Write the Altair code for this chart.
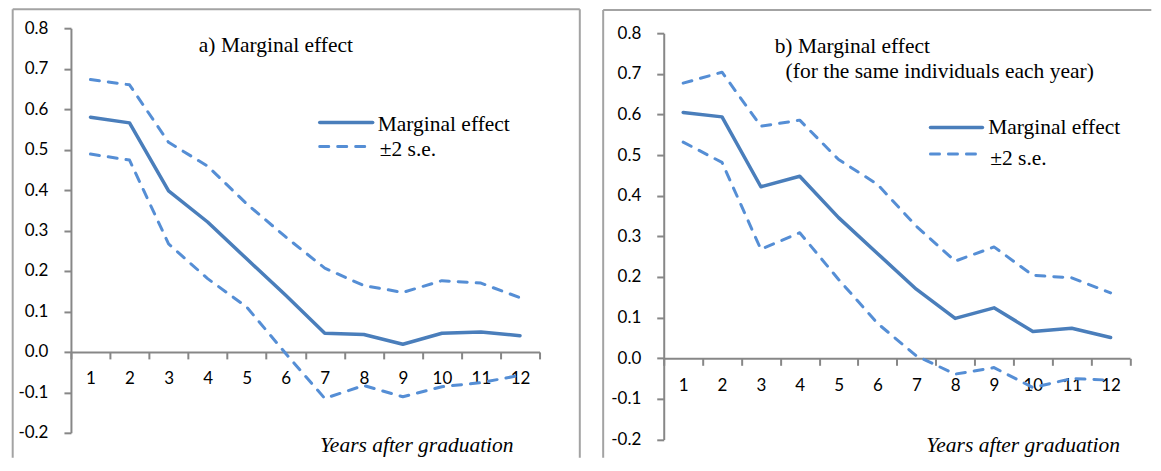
import altair as alt
import pandas as pd

# ---------------- data ----------------
years = list(range(1, 13))

a_marginal = [0.580, 0.566, 0.398, 0.321, 0.230, 0.140, 0.046, 0.043, 0.019, 0.046, 0.049, 0.040]
a_upper = [0.673, 0.660, 0.518, 0.459, 0.366, 0.284, 0.207, 0.164, 0.147, 0.176, 0.170, 0.134]
a_lower = [0.489, 0.474, 0.267, 0.181, 0.111, -0.004, -0.115, -0.083, -0.111, -0.086, -0.076, -0.058]

b_marginal = [0.605, 0.594, 0.422, 0.448, 0.346, 0.258, 0.170, 0.098, 0.124, 0.066, 0.074, 0.051]
b_upper = [0.677, 0.704, 0.571, 0.586, 0.489, 0.428, 0.325, 0.239, 0.274, 0.204, 0.198, 0.161]
b_lower = [0.532, 0.482, 0.268, 0.309, 0.194, 0.086, 0.006, -0.039, -0.023, -0.072, -0.050, -0.054]

y_ticks = [-0.2, -0.1, 0.0, 0.1, 0.2, 0.3, 0.4, 0.5, 0.6, 0.7, 0.8]
x_tick_positions = [i + 0.5 for i in range(13)]

title_a = ["a) Marginal effect"]
title_b = ["b) Marginal effect", "(for the same individuals each year)"]
legend_labels = ["Marginal effect", "\u00b12 s.e."]
x_title = "Years after graduation"

# ---------------- styles ----------------
SANS = "Lato"
SERIF = "Liberation Serif"
AXIS_COLOR = "#878787"
BORDER_COLOR = "#a3a3a3"
SOLID_COLOR = "#4a7ebb"
DASH_COLOR = "#558ed5"
H = 412


def panel(me, up, lo, width, y_range, x_offset, titles, legend, xlab, borders):
    x_enc = alt.X(
        "year:Q",
        scale=alt.Scale(domain=[0.5, 12.5], nice=False, zero=False),
        axis=alt.Axis(
            values=x_tick_positions,
            labelExpr="datum.value < 12 ? format(datum.value + 0.5, 'd') : ''",
            labelOffset=width / 24.0,
            offset=x_offset,
            title=None,
            grid=False,
            tickSize=7,
            tickWidth=2,
            tickColor=AXIS_COLOR,
            domainColor=AXIS_COLOR,
            domainWidth=2,
            labelFont=SANS,
            labelFontSize=17,
            labelColor="black",
            labelPadding=12,
            labelFlush=False,
            labelOverlap=False,
            labelBound=False,
        ),
    )
    y_enc = alt.Y(
        "value:Q",
        scale=alt.Scale(domain=[-0.2, 0.8], range=y_range, nice=False, zero=False),
        axis=alt.Axis(
            values=y_ticks,
            labelExpr="replace(format(datum.value, '.1f'), '\u2212', '-')",
            title=None,
            grid=False,
            tickSize=7,
            tickWidth=2,
            tickColor=AXIS_COLOR,
            domainColor=AXIS_COLOR,
            domainWidth=2,
            labelFont=SANS,
            labelFontSize=17,
            labelColor="black",
            labelPadding=16,
            labelFlush=False,
            labelOverlap=False,
        ),
    )

    solid_df = pd.DataFrame({"year": years, "value": me})
    dash_df = pd.DataFrame({
        "year": years + years,
        "value": up + lo,
        "band": ["upper"] * len(years) + ["lower"] * len(years),
    })
    one = pd.DataFrame({"k": [0]})

    layers = []
    # panel border
    for b in borders:
        if b[0] == "v":
            _, bx, by1, by2 = b
            layers.append(alt.Chart(one).mark_rule(color=BORDER_COLOR, strokeWidth=2).encode(
                x=alt.value(bx), y=alt.value(by1), y2=alt.value(by2)))
        else:
            _, bx1, bx2, by = b
            layers.append(alt.Chart(one).mark_rule(color=BORDER_COLOR, strokeWidth=2).encode(
                x=alt.value(bx1), x2=alt.value(bx2), y=alt.value(by)))

    dashed = alt.Chart(dash_df).mark_line(
        color=DASH_COLOR, strokeWidth=3, strokeDash=[9, 9], strokeCap="round", strokeJoin="round"
    ).encode(x=x_enc, y=y_enc, detail="band:N")
    solid = alt.Chart(solid_df).mark_line(
        color=SOLID_COLOR, strokeWidth=3.5, strokeCap="round", strokeJoin="round"
    ).encode(x=x_enc, y=y_enc)
    layers += [dashed, solid]

    # titles
    for txt, tx, ty in titles:
        layers.append(alt.Chart(one).mark_text(
            text=txt, font=SERIF, fontSize=21.5, align="left", baseline="middle", color="black"
        ).encode(x=alt.value(tx), y=alt.value(ty)))

    # legend
    (lx1, lx2, ly_solid, ly_dash, tx1, ty1, tx2, ty2) = legend
    layers.append(alt.Chart(one).mark_rule(color=SOLID_COLOR, strokeWidth=3.5, strokeCap="round").encode(
        x=alt.value(lx1), x2=alt.value(lx2), y=alt.value(ly_solid)))
    layers.append(alt.Chart(one).mark_rule(color=DASH_COLOR, strokeWidth=3, strokeDash=[9, 9], strokeCap="round").encode(
        x=alt.value(lx1), x2=alt.value(lx2), y=alt.value(ly_dash)))
    layers.append(alt.Chart(one).mark_text(
        text=legend_labels[0], font=SERIF, fontSize=21.5, align="left", baseline="middle", color="black"
    ).encode(x=alt.value(tx1), y=alt.value(ty1)))
    layers.append(alt.Chart(one).mark_text(
        text=legend_labels[1], font=SERIF, fontSize=21.5, align="left", baseline="middle", color="black"
    ).encode(x=alt.value(tx2), y=alt.value(ty2)))

    # x axis title (italic, bottom right)
    xt, xx, xy = xlab
    layers.append(alt.Chart(one).mark_text(
        text=xt, font=SERIF, fontSize=21.5, fontStyle="italic", align="right", baseline="middle", color="black"
    ).encode(x=alt.value(xx), y=alt.value(xy)))

    return alt.layer(*layers).properties(width=width, height=H)


left = panel(
    a_marginal, a_upper, a_lower,
    width=469,
    y_range=[405, 0],
    x_offset=-(H - 324),
    titles=[(title_a[0], 128, 17.5)],
    legend=(249, 302, 94.4, 118.4, 307, 96.7, 309, 122.4),
    xlab=(x_title, 443, 417.7),
    borders=[("v", -58.3, -19, 430), ("h", -58.3, 509.3, -19), ("v", 509.3, -19, 430)],
)

right = panel(
    b_marginal, b_upper, b_lower,
    width=466.7,
    y_range=[411.7, 5],
    x_offset=-(H - 330.4),
    titles=[(title_b[0], 111, 18.4), (title_b[1], 122, 43.4)],
    legend=(267, 319, 99.4, 126, 324.7, 100, 326.7, 131),
    xlab=(x_title, 456.7, 418.4),
    borders=[("v", -60.6, -18.3, 430), ("h", -60.6, 488, -18.3)],
)

chart = alt.hconcat(left, right, spacing=124.3, bounds="flush").properties(
    padding={"left": 3, "top": 0, "right": 0, "bottom": 0}
).configure(background="white").configure_view(stroke=None)

chart.save("out.html", embed_options={"renderer": "svg", "actions": False})
